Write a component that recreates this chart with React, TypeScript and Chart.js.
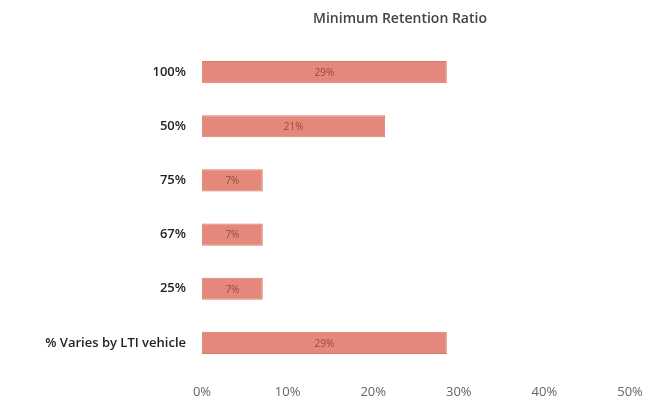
import React, { useEffect, useRef } from "react";
import { Chart, registerables } from "chart.js";

Chart.register(...registerables);

const titleText = "Minimum Retention Ratio";
const categories = ["100%", "50%", "75%", "67%", "25%", "% Varies by LTI vehicle"];
const values = [28.6, 21.4, 7.1, 7.1, 7.1, 28.6];
const valueLabels = ["29%", "21%", "7%", "7%", "7%", "29%"];
const xTicks = [0, 10, 20, 30, 40, 50];

const FONT = "'Open Sans', 'Liberation Sans', sans-serif";

const barLabelPlugin = {
  id: "barLabels",
  afterDatasetsDraw(chart: any) {
    const ctx = chart.ctx;
    const meta = chart.getDatasetMeta(0);
    ctx.save();
    ctx.font = `10px ${FONT}`;
    ctx.fillStyle = "#9a4a40";
    ctx.textAlign = "center";
    ctx.textBaseline = "middle";
    meta.data.forEach((bar: any, i: number) => {
      const cx = (bar.base + bar.x) / 2;
      ctx.fillText(valueLabels[i], cx, bar.y + 1);
    });
    ctx.restore();
  },
};

const titlePlugin = {
  id: "customTitle",
  afterDraw(chart: any) {
    const ctx = chart.ctx;
    ctx.save();
    ctx.font = `600 14px ${FONT}`;
    ctx.fillStyle = "#444444";
    ctx.textAlign = "center";
    ctx.textBaseline = "middle";
    ctx.fillText(titleText, 400, 19);
    ctx.restore();
  },
};

export default function App() {
  const ref = useRef<HTMLCanvasElement | null>(null);
  useEffect(() => {
    if (!ref.current) return;
    const chart = new Chart(ref.current, {
      type: "bar",
      data: {
        labels: categories,
        datasets: [
          {
            data: values,
            backgroundColor: "#e3887a",
            borderColor: "#db7a68",
            borderWidth: 1,
            barPercentage: 0.41,
            categoryPercentage: 1,
          },
        ],
      },
      options: {
        indexAxis: "y",
        animation: false,
        responsive: false,
        maintainAspectRatio: false,
        layout: { padding: { top: 45, left: 0, right: 0, bottom: 0 } },
        plugins: {
          legend: { display: false },
          tooltip: { enabled: false },
          title: { display: false },
        },
        scales: {
          x: {
            min: 0,
            max: 50,
            afterBuildTicks(axis: any) {
              axis.ticks = xTicks.map((v) => ({ value: v }));
            },
            grid: { display: false, drawTicks: false },
            border: { display: false },
            ticks: {
              color: "#666666",
              font: { family: FONT, size: 13 },
              padding: 14,
              maxRotation: 0,
              callback: (v: any) => `${v}%`,
            },
            afterFit(axis: any) {
              axis.height = 32;
              axis.paddingRight = 17;
              axis.paddingLeft = 0;
            },
          },
          y: {
            grid: { display: false, drawTicks: false },
            border: { display: false },
            ticks: {
              color: "#222222",
              font: { family: FONT, size: 13, weight: "600" },
              padding: 16,
            },
            afterFit(axis: any) {
              axis.width = 202;
            },
          },
        },
      },
      plugins: [barLabelPlugin, titlePlugin],
    });
    return () => chart.destroy();
  }, []);
  return (
    <div style={{ position: "fixed", left: 0, top: 0, width: 647, height: 402, background: "#fff" }}>
      <canvas ref={ref} width={647} height={402} style={{ width: 647, height: 402 }} />
    </div>
  );
}
